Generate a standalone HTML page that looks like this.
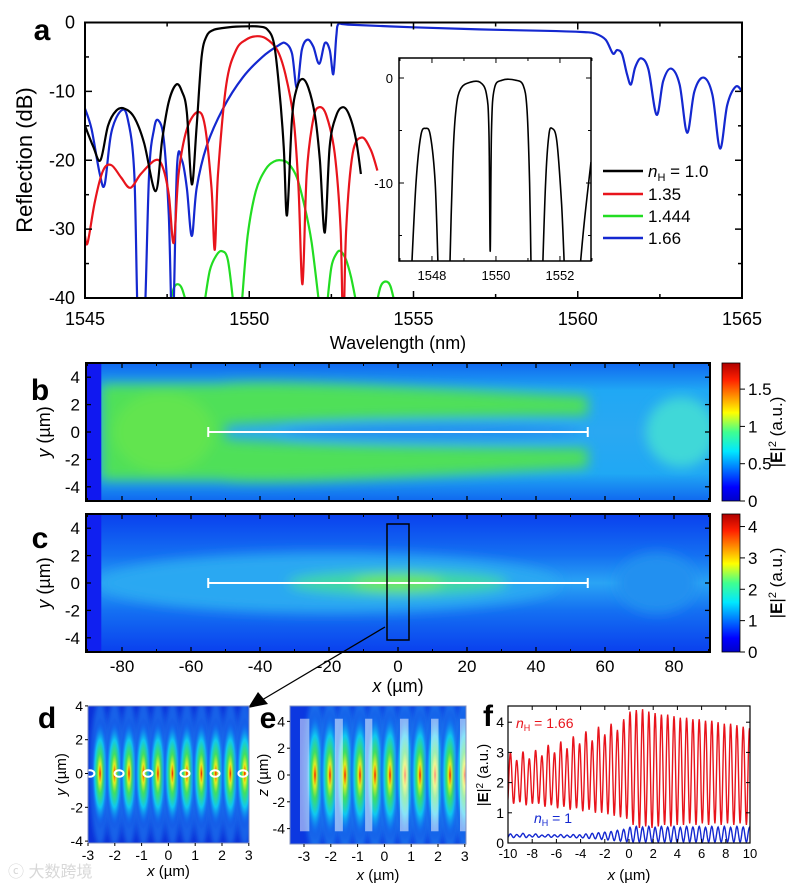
<!DOCTYPE html>
<html><head><meta charset="utf-8"><style>
html,body{margin:0;padding:0;background:#fff;}
svg{display:block;font-family:"Liberation Sans","Noto Sans CJK SC",sans-serif;}
</style></head><body>
<svg id="fig" width="797" height="886" viewBox="0 0 797 886" xmlns="http://www.w3.org/2000/svg">
<defs>
<linearGradient id="jetV" x1="0" y1="1" x2="0" y2="0">
<stop offset="0" stop-color="#0000c8"/><stop offset="0.1" stop-color="#0000ff"/><stop offset="0.36" stop-color="#00e8ff"/><stop offset="0.5" stop-color="#40ff90"/><stop offset="0.64" stop-color="#ffff00"/><stop offset="0.88" stop-color="#ff2000"/><stop offset="1" stop-color="#b00000"/>
</linearGradient>
<radialGradient id="lobe" cx="0.5" cy="0.5" r="0.5">
<stop offset="0" stop-color="#e01000"/><stop offset="0.07" stop-color="#ff8000"/><stop offset="0.17" stop-color="#e0f020"/><stop offset="0.35" stop-color="#40e060"/><stop offset="0.6" stop-color="#10c8f0"/><stop offset="0.82" stop-color="#1070f0" stop-opacity="0.6"/><stop offset="1" stop-color="#1040e0" stop-opacity="0"/>
</radialGradient>
<linearGradient id="bBase" x1="0" y1="0" x2="0" y2="1">
<stop offset="0" stop-color="#1068f0"/><stop offset="0.2" stop-color="#20a8f4"/><stop offset="0.5" stop-color="#2aa8f2"/><stop offset="0.8" stop-color="#20a8f4"/><stop offset="1" stop-color="#1068f0"/>
</linearGradient>
<linearGradient id="cBase" x1="0" y1="0" x2="0" y2="1">
<stop offset="0" stop-color="#0a40ee"/><stop offset="0.3" stop-color="#1470f2"/><stop offset="0.5" stop-color="#2aa4f4"/><stop offset="0.7" stop-color="#1470f2"/><stop offset="1" stop-color="#0a40ee"/>
</linearGradient>
<filter id="blur6" x="-20%" y="-50%" width="140%" height="200%"><feGaussianBlur stdDeviation="6"/></filter>
<filter id="blur3" x="-50%" y="-50%" width="200%" height="200%"><feGaussianBlur stdDeviation="2.5"/></filter>
<clipPath id="clipA"><rect x="85" y="22.5" width="657" height="275.5"/></clipPath>
<clipPath id="clipI"><rect x="399" y="58" width="192" height="203"/></clipPath>
<clipPath id="clipB"><rect x="86" y="363" width="624" height="138"/></clipPath>
<clipPath id="clipC"><rect x="86" y="514" width="624" height="138"/></clipPath>
<clipPath id="clipD"><rect x="88" y="706" width="161" height="137"/></clipPath>
<clipPath id="clipE"><rect x="290" y="706" width="176" height="138"/></clipPath>
<clipPath id="clipF"><rect x="508" y="706" width="242" height="137"/></clipPath>
</defs>
</svg>
<script>
// ---------- Panel a data ----------
const blackWl=[1545,1545.25,1545.47,1545.7,1545.95,1546.2,1546.5,1546.8,1547.15,1547.35,1547.55,1547.78,1547.95,1548.1,1548.25,1548.4,1548.55,1548.7,1548.9,1549.2,1549.6,1550.0,1550.3,1550.55,1550.75,1550.9,1551.05,1551.15,1551.3,1551.45,1551.62,1551.8,1552.0,1552.15,1552.3,1552.45,1552.65,1552.86,1553.05,1553.25,1553.4];
const blackDb=[-15,-18,-20,-15,-12.8,-12.5,-13.8,-17.5,-24.5,-17,-11.5,-9,-10,-13,-23.5,-15,-5,-2,-1.1,-0.8,-0.6,-0.55,-0.6,-1,-3,-9,-18,-28,-14,-9.5,-8.2,-9.5,-13.5,-20,-30.5,-18,-13.5,-12.3,-13.5,-17,-22];
const redWl=[1545,1545.08,1545.3,1545.55,1545.8,1546.1,1546.38,1546.7,1547.13,1547.35,1547.55,1547.7,1547.85,1548.1,1548.43,1548.65,1548.85,1548.95,1549.05,1549.3,1549.6,1549.9,1550.19,1550.5,1550.85,1551.1,1551.35,1551.5,1551.62,1551.75,1551.95,1552.13,1552.35,1552.6,1552.78,1552.86,1552.95,1553.15,1553.43,1553.7,1553.9];
const redDb=[-31,-32,-26,-21.5,-20.7,-22.5,-24,-22,-20,-20.8,-25,-32,-22,-15.5,-13,-15,-24,-33,-22,-9,-4,-2.5,-2,-2.3,-4,-7.5,-14,-24,-38,-22,-14,-12.3,-13.5,-19,-30,-45,-30,-19,-16.7,-18.5,-21.5];
const greenWl=[1547.58,1547.7,1547.82,1547.95,1548.1,null,1548.63,1548.8,1549.0,1549.17,1549.35,1549.52,null,1549.77,1549.95,1550.2,1550.5,1550.75,1550.97,1551.2,1551.45,1551.7,1551.9,1552.13,null,1552.37,1552.5,1552.65,1552.78,1552.95,1553.1,1553.27,null,1553.87,1554.0,1554.16,1554.3,1554.44];
const greenDb=[-41,-38.6,-38,-38.6,-41,null,-41,-36,-33.8,-33.2,-34.5,-41,null,-41,-31,-24.5,-21.3,-20.2,-20,-20.5,-22.5,-27,-32,-41,null,-41,-35.5,-33.6,-33.2,-34.5,-37,-41,null,-41,-38.3,-37.6,-38.3,-41];
const blueWl=[1545,1545.2,1545.45,1545.6,1545.8,1546.1,1546.3,1546.5,1546.62,1546.8,1546.95,1547.1,1547.23,1547.4,1547.55,1547.67,1547.8,1547.95,1548.1,1548.25,1548.4,1548.7,1549.2,1549.8,1550.4,1550.9,1551.1,1551.3,1551.45,1551.6,1551.77,1551.95,1552.13,1552.3,1552.45,1552.56,1552.65,1552.72,1553,1555,1557,1559,1560.2,1560.53,1560.85,1561.07,1561.2,1561.35,1561.5,1561.62,1561.75,1561.93,1562.15,1562.4,1562.6,1562.84,1563.1,1563.33,1563.55,1563.83,1564.1,1564.33,1564.55,1564.81,1565];
const blueDb=[-12.5,-15.5,-22,-23.5,-16,-12.8,-14,-22,-45,-45,-22,-15.5,-14.2,-17,-28,-45,-21,-20,-24,-31,-24,-18,-12.5,-8,-5,-3.3,-3,-4.5,-9.5,-4,-2.5,-3.5,-6,-3,-4,-7.5,-2,-0.2,-0.3,-0.7,-1,-1.2,-1.4,-1.6,-2.5,-4.5,-4,-4.6,-7.5,-9,-6.5,-5.2,-6.8,-13.4,-8.5,-6.7,-9,-16,-10,-8,-10.5,-18.3,-12,-9.3,-10];
const insetWl=[1547.35,1547.5,1547.65,1547.8,1547.95,1548.1,1548.2,null,1548.55,1548.65,1548.75,1548.9,1549.2,1549.5,1549.7,1549.78,1549.82,1549.86,1549.95,1550.2,1550.6,1550.85,1550.97,1551.05,1551.1,null,1551.45,1551.55,1551.65,1551.75,1551.9,1552.05,1552.15,null,1552.6,1552.75,1552.97];
const insetDb=[-19,-10,-5.5,-4.8,-5.5,-10,-19,null,-19,-8,-3,-1,-0.4,-0.4,-1.5,-5,-16.5,-5,-1,-0.2,-0.2,-0.7,-3,-10,-19,null,-19,-10,-5.5,-4.8,-6,-12,-19,null,-19,-14,-8];
const aXTicks=[1545,1550,1555,1560,1565];
const aYTicks=[0,-10,-20,-30,-40];
const insetXTicks=[1548,1550,1552];
const insetYTicks=[0,-10];
const legendLabels=['= 1.0','1.35','1.444','1.66'];
const legendColors=['#000000','#e8141c','#22dd22','#1428d0'];
// ---------- Panel f data ----------
const fX0=-9.8, fPeriod=0.52;
const redPeaks=[3.0,2.75,3.03,2.8,3.08,2.9,3.25,3.0,3.36,3.14,3.53,3.3,3.7,3.4,3.85,3.6,3.95,3.75,4.1,4.35,4.4,4.43,4.35,4.3,4.25,4.25,4.2,4.15,4.15,4.1,4.1,4.05,4.05,4.0,3.95,3.95,3.9,3.85,3.8];
const redTroughs=[1.3,1.35,1.25,1.3,1.3,1.2,1.25,1.15,1.2,1.1,1.15,1.05,1.1,1.0,1.0,0.95,0.9,0.85,0.8,0.6,0.5,0.55,0.5,0.55,0.6,0.55,0.6,0.6,0.65,0.6,0.65,0.6,0.65,0.6,0.65,0.6,0.65,0.6,0.7];
const bluePeaks=[0.3,0.28,0.32,0.27,0.3,0.26,0.28,0.27,0.28,0.26,0.28,0.27,0.3,0.32,0.34,0.36,0.38,0.42,0.45,0.52,0.55,0.53,0.55,0.52,0.55,0.53,0.55,0.52,0.55,0.53,0.55,0.52,0.55,0.53,0.55,0.52,0.55,0.53,0.52];
const blueTroughs=[0.18,0.2,0.18,0.2,0.19,0.2,0.19,0.2,0.18,0.19,0.17,0.17,0.15,0.14,0.12,0.1,0.08,0.06,0.04,0.03,0.03,0.03,0.03,0.03,0.03,0.03,0.03,0.03,0.03,0.03,0.03,0.03,0.03,0.03,0.03,0.03,0.03,0.03,0.03];
const fXTicks=[-10,-8,-6,-4,-2,0,2,4,6,8,10];
const fYTicks=[0,1,2,3,4];
// ---------- heatmap tick data ----------
const bcXTicks=[-80,-60,-40,-20,0,20,40,60,80];
const bcYTicks=[4,2,0,-2,-4];
const bBarTicks=[0,0.5,1,1.5];
const cBarTicks=[0,1,2,3,4];
const dLobes=[-2.55,-2.01,-1.47,-0.93,-0.39,0.15,0.69,1.23,1.77,2.31,2.85];
const dCircles=[-2.93,-1.84,-0.76,0.62,1.74,2.78];
const eLobes=[-2.59,-2.03,-1.47,-0.91,-0.35,0.21,0.77,1.33,1.89,2.45,3.0];
const eStripes=[[-3.15,-2.8],[-1.85,-1.55],[-0.72,-0.45],[0.58,0.9],[1.74,2.02],[2.82,3.1]];
const dTicks=[-3,-2,-1,0,1,2,3];
const dYTicks=[4,2,0,-2,-4];

const NS='http://www.w3.org/2000/svg';
const svg=document.getElementById('fig');
function mk(tag,attrs,parent){const e=document.createElementNS(NS,tag);for(const k in attrs)e.setAttribute(k,attrs[k]);(parent||svg).appendChild(e);return e;}
function txt(x,y,s,size,anchor,parent,extra){const t=mk('text',Object.assign({x:x,y:y,'font-size':size,'text-anchor':anchor||'middle',fill:'#000'},extra||{}),parent);t.textContent=s;return t;}
function pathFrom(xs,ys,X,Y){
 // split into segments, then Catmull-Rom smoothing
 const segs=[];let cur=[];
 for(let i=0;i<xs.length;i++){if(xs[i]===null){if(cur.length)segs.push(cur);cur=[];continue;}cur.push([X(xs[i]),Y(ys[i])]);}
 if(cur.length)segs.push(cur);
 let d='';
 segs.forEach(p=>{d+='M'+p[0][0].toFixed(1)+','+p[0][1].toFixed(1);
  for(let i=0;i<p.length-1;i++){const p0=p[i-1]||p[i],p1=p[i],p2=p[i+1],p3=p[i+2]||p2;
   const c1x=p1[0]+(p2[0]-p0[0])/6,c1y=p1[1]+(p2[1]-p0[1])/6,c2x=p2[0]-(p3[0]-p1[0])/6,c2y=p2[1]-(p3[1]-p1[1])/6;
   d+='C'+c1x.toFixed(1)+','+c1y.toFixed(1)+' '+c2x.toFixed(1)+','+c2y.toFixed(1)+' '+p2[0].toFixed(1)+','+p2[1].toFixed(1);}
 });
 return d;}
let el;

// ===== Panel a =====
const aX=w=>85+32.85*(w-1545), aY=db=>22.5+6.8875*(-db);
const ga=mk('g',{});


el=txt(42,40,'a',30,'middle',ga,{'font-weight':'bold'});


const gs=mk('g',{'clip-path':'url(#clipA)',fill:'none','stroke-width':2.2,'stroke-linejoin':'round'},ga);
el=mk('path',{d:pathFrom(greenWl,greenDb,aX,aY),stroke:legendColors[2]},gs);


el=mk('path',{d:pathFrom(blueWl,blueDb,aX,aY),stroke:legendColors[3]},gs);


el=mk('path',{d:pathFrom(redWl,redDb,aX,aY),stroke:legendColors[1]},gs);


el=mk('path',{d:pathFrom(blackWl,blackDb,aX,aY),stroke:legendColors[0]},gs);


el=mk('rect',{x:85,y:22.5,width:657,height:275.5,fill:'none',stroke:'#000','stroke-width':2},ga);


for(let w=1545;w<=1565;w+=2.5){const L=(w%5===0)?7:4;mk('line',{x1:aX(w),x2:aX(w),y1:298,y2:298-L,stroke:'#000','stroke-width':1.5},ga);mk('line',{x1:aX(w),x2:aX(w),y1:22.5,y2:22.5+L,stroke:'#000','stroke-width':1.5},ga);}
for(let d=0;d>=-40;d-=5){const L=(d%10===0)?7:4;mk('line',{x1:85,x2:85+L,y1:aY(d),y2:aY(d),stroke:'#000','stroke-width':1.5},ga);mk('line',{x1:742,x2:742-L,y1:aY(d),y2:aY(d),stroke:'#000','stroke-width':1.5},ga);}
aXTicks.forEach(w=>{el=txt(aX(w),325,String(w),18,'middle',ga);

});
aYTicks.forEach(d=>{el=txt(75,aY(d)+6,String(d),18,'end',ga);

});
el=txt(398,349,'Wavelength (nm)',18,'middle',ga);


el=txt(0,0,'Reflection (dB)',22,'middle',ga,{transform:'translate(32,160) rotate(-90)'});


// inset
const iX=w=>399+32*(w-1546.97), iY=db=>78+10.5*(-db);
const gi=mk('g',{},ga);


mk('rect',{x:399,y:58,width:192,height:203,fill:'#fff'},gi);
el=mk('path',{d:pathFrom(insetWl,insetDb,iX,iY),stroke:'#000',fill:'none','stroke-width':1.6,'clip-path':'url(#clipI)'},gi);


mk('rect',{x:399,y:58,width:192,height:203,fill:'none',stroke:'#000','stroke-width':1.5},gi);
for(let w=1547;w<=1553;w+=1){const L=(w%2===0)?5:3;mk('line',{x1:iX(w),x2:iX(w),y1:261,y2:261-L,stroke:'#000'},gi);mk('line',{x1:iX(w),x2:iX(w),y1:58,y2:58+L,stroke:'#000'},gi);}
for(let d=0;d>=-15;d-=5){const L=(d%10===0)?5:3;mk('line',{x1:399,x2:399+L,y1:iY(d),y2:iY(d),stroke:'#000'},gi);mk('line',{x1:591,x2:591-L,y1:iY(d),y2:iY(d),stroke:'#000'},gi);}
insetXTicks.forEach(w=>{el=txt(iX(w),280,String(w),13,'middle',gi);

});
insetYTicks.forEach(d=>{el=txt(393,iY(d)+5,String(d),13,'end',gi);

});
// legend
const gl=mk('g',{},ga);


const legY=[171,194,216,238];
legendLabels.forEach((s,i)=>{
 el=mk('line',{x1:603,x2:643,y1:legY[i],y2:legY[i],stroke:legendColors[i],'stroke-width':2.5},gl);
 
 
 const t=mk('text',{x:648,y:legY[i]+6,'font-size':17,fill:'#000'},gl);
 if(i===0){const a=mk('tspan',{'font-style':'italic'},t);a.textContent='n';const b=mk('tspan',{'font-size':11,dy:4},t);b.textContent='H';const c=mk('tspan',{dy:-4},t);c.textContent=' '+s;}else t.textContent=s;
 
 
});

// ===== Panels b,c =====
const bcX=x=>398+3.45*x;
function heatAxes(g,top,yLab,barTicks,barMax,showX){
 const Y=y=>top+69-13.7*y;
 mk('rect',{x:86,y:top,width:624,height:138,fill:'none',stroke:'#000','stroke-width':2},g);
 bcXTicks.forEach(x=>{mk('line',{x1:bcX(x),x2:bcX(x),y1:top+138,y2:top+133,stroke:'#000','stroke-width':1.3},g);mk('line',{x1:bcX(x),x2:bcX(x),y1:top,y2:top+5,stroke:'#000','stroke-width':1.3},g);
  if(showX){el=txt(bcX(x),672,String(x),17,'middle',g);
  
  }});
 for(let x=-90;x<=90;x+=10){mk('line',{x1:bcX(x),x2:bcX(x),y1:top+138,y2:top+135,stroke:'#000'},g);mk('line',{x1:bcX(x),x2:bcX(x),y1:top,y2:top+3,stroke:'#000'},g);}
 bcYTicks.forEach(y=>{mk('line',{x1:86,x2:91,y1:Y(y),y2:Y(y),stroke:'#000','stroke-width':1.3},g);mk('line',{x1:710,x2:705,y1:Y(y),y2:Y(y),stroke:'#000','stroke-width':1.3},g);
  el=txt(80,Y(y)+6,String(y),17,'end',g);
  
  });
 const t=mk('text',{'font-size':18,'text-anchor':'middle',transform:'translate(50,'+(top+69)+') rotate(-90)'},g);
 const a=mk('tspan',{'font-style':'italic'},t);a.textContent=yLab;const b=mk('tspan',{},t);b.textContent=' (\u00b5m)';
 
 
 el=mk('rect',{x:722,y:top,width:18,height:138,fill:'url(#jetV)',stroke:'#000','stroke-width':0.8},g);
 
 
 const cY=v=>top+138-138*v/barMax;
 barTicks.forEach(v=>{mk('line',{x1:740,x2:745,y1:cY(v),y2:cY(v),stroke:'#000'},g);
  el=txt(748,cY(v)+6,String(v),17,'start',g);
  
  });
 const ct=mk('text',{'font-size':17,'text-anchor':'middle',transform:'translate(782,'+(top+69)+') rotate(-90)'},g);
 const p1=mk('tspan',{},ct);p1.textContent='|';const p2=mk('tspan',{'font-weight':'bold'},ct);p2.textContent='E';const p3=mk('tspan',{},ct);p3.textContent='|';const p4=mk('tspan',{'font-size':11,dy:-6},ct);p4.textContent='2';const p5=mk('tspan',{dy:6},ct);p5.textContent=' (a.u.)';
 
 
 return Y;
}
// b
const gb=mk('g',{});


const hb=mk('g',{'clip-path':'url(#clipB)'},gb);
mk('rect',{x:86,y:363,width:624,height:138,fill:'url(#bBase)'},hb);
const bb=mk('g',{filter:'url(#blur6)'},hb);
const bY=y=>432-13.7*y;
mk('path',{d:`M${bcX(-86)},${bY(3.5)} L${bcX(-52)},${bY(3.5)} C${bcX(-40)},${bY(3.9)} ${bcX(0)},${bY(3.3)} ${bcX(55)},${bY(2.6)} L${bcX(55)},${bY(1.2)} C${bcX(20)},${bY(1.1)} ${bcX(-30)},${bY(0.9)} ${bcX(-50)},${bY(0.5)} L${bcX(-50)},${bY(-0.5)} C${bcX(-30)},${bY(-0.9)} ${bcX(20)},${bY(-1.1)} ${bcX(55)},${bY(-1.2)} L${bcX(55)},${bY(-2.6)} C${bcX(0)},${bY(-3.3)} ${bcX(-40)},${bY(-3.9)} ${bcX(-52)},${bY(-3.5)} L${bcX(-86)},${bY(-3.5)} Z`,fill:'#50e058'},bb);
mk('ellipse',{cx:bcX(-68),cy:bY(0),rx:50,ry:40,fill:'#62e450'},bb);
mk('ellipse',{cx:bcX(82),cy:bY(0),rx:35,ry:35,fill:'#40d8d8'},bb);
mk('ellipse',{cx:bcX(10),cy:bY(0),rx:150,ry:9,fill:'#2090f0'},bb);
mk('rect',{x:86,y:363,width:bcX(-86)-86,height:138,fill:'#1018f0'},hb);
el=mk('g',{stroke:'#fff','stroke-width':2},gb);


mk('line',{x1:bcX(-55),x2:bcX(55),y1:bY(0),y2:bY(0)},el);mk('line',{x1:bcX(-55),x2:bcX(-55),y1:bY(0)-5,y2:bY(0)+5},el);mk('line',{x1:bcX(55),x2:bcX(55),y1:bY(0)-5,y2:bY(0)+5},el);
heatAxes(gb,363,'y',bBarTicks,1.85,false);
el=txt(40,400,'b',30,'middle',gb,{'font-weight':'bold'});


// c
const gc=mk('g',{});


const hc=mk('g',{'clip-path':'url(#clipC)'},gc);
mk('rect',{x:86,y:514,width:624,height:138,fill:'url(#cBase)'},hc);
const cb=mk('g',{filter:'url(#blur6)'},hc);
const cY=y=>583-13.7*y;
mk('ellipse',{cx:bcX(-20),cy:cY(0),rx:230,ry:30,fill:'#2aa8f2'},cb);
mk('ellipse',{cx:bcX(0),cy:cY(0),rx:110,ry:12,fill:'#40d8a0'},cb);
mk('ellipse',{cx:bcX(0),cy:cY(0),rx:45,ry:8,fill:'#70e850'},cb);
mk('ellipse',{cx:bcX(75),cy:cY(0),rx:40,ry:30,fill:'#2090f0'},cb);
mk('rect',{x:86,y:514,width:bcX(-86)-86,height:138,fill:'#1020f0'},hc);
el=mk('g',{stroke:'#fff','stroke-width':2},gc);


mk('line',{x1:bcX(-55),x2:bcX(55),y1:cY(0),y2:cY(0)},el);mk('line',{x1:bcX(-55),x2:bcX(-55),y1:cY(0)-5,y2:cY(0)+5},el);mk('line',{x1:bcX(55),x2:bcX(55),y1:cY(0)-5,y2:cY(0)+5},el);
el=mk('rect',{x:387,y:524,width:22,height:116,fill:'none',stroke:'#000','stroke-width':1.5},gc);


el=mk('line',{x1:385,y1:627,x2:262,y2:700,stroke:'#000','stroke-width':1.3},gc);


mk('path',{d:'M248,708 L258,692 L268,704 Z',fill:'#000'},gc);
heatAxes(gc,514,'y',cBarTicks,4.4,true);
const xt=mk('text',{x:398,y:692,'font-size':18,'text-anchor':'middle'},gc);
{const a=mk('tspan',{'font-style':'italic'},xt);a.textContent='x';const b=mk('tspan',{},xt);b.textContent=' (\u00b5m)';}


el=txt(40,548,'c',30,'middle',gc,{'font-weight':'bold'});



// ===== Panel d =====
const dX=x=>88+26.8*(x+3), dY=y=>773.5-16.9*y;
const gd=mk('g',{});


const hd=mk('g',{'clip-path':'url(#clipD)'},gd);
mk('rect',{x:88,y:706,width:161,height:137,fill:'#0c30d8'},hd);
dLobes.forEach(x=>{mk('ellipse',{cx:dX(x),cy:dY(0),rx:10,ry:72,fill:'#1a78f0',opacity:0.7,filter:'url(#blur3)'},hd);
 el=mk('ellipse',{cx:dX(x),cy:dY(0),rx:9,ry:56,fill:'url(#lobe)'},hd);
 
 });
dCircles.forEach(x=>{el=mk('ellipse',{cx:dX(x),cy:dY(0),rx:4.5,ry:3.2,fill:'none',stroke:'#fff','stroke-width':2},hd);
 
 });
function smallAxes(g,X,Y,x0,y0,w,h,xt,yt,ylab,xlabY){
 mk('rect',{x:x0,y:y0,width:w,height:h,fill:'none',stroke:'#8090c0','stroke-width':1},g);
 xt.forEach(v=>{mk('line',{x1:X(v),x2:X(v),y1:y0+h,y2:y0+h+3,stroke:'#000'},g);
  el=txt(X(v),y0+h+17,String(v),14,'middle',g);
  
  });
 yt.forEach(v=>{mk('line',{x1:x0,x2:x0-3,y1:Y(v),y2:Y(v),stroke:'#000'},g);
  el=txt(x0-5,Y(v)+5,String(v),14,'end',g);
  
  });
 const t=mk('text',{'font-size':15,'text-anchor':'middle',transform:'translate('+(x0-22)+','+(y0+h/2)+') rotate(-90)'},g);
 const a=mk('tspan',{'font-style':'italic'},t);a.textContent=ylab;const b=mk('tspan',{},t);b.textContent=' (\u00b5m)';
 
 
 const u=mk('text',{x:x0+w/2,y:xlabY,'font-size':15,'text-anchor':'middle'},g);
 const c=mk('tspan',{'font-style':'italic'},u);c.textContent='x';const d=mk('tspan',{},u);d.textContent=' (\u00b5m)';
 
 
}
smallAxes(gd,dX,dY,88,706,161,137,dTicks,dYTicks,'y',876);
el=txt(47,728,'d',30,'middle',gd,{'font-weight':'bold'});



// ===== Panel e =====
const eX=x=>304+26.8*(x+3), eY=y=>775-13.4*y;
const ge=mk('g',{});


const he=mk('g',{'clip-path':'url(#clipE)'},ge);
mk('rect',{x:290,y:706,width:176,height:138,fill:'#0c38e0'},he);
eLobes.forEach(x=>{mk('ellipse',{cx:eX(x),cy:eY(0),rx:11,ry:78,fill:'#1a80f0',opacity:0.7,filter:'url(#blur3)'},he);
 el=mk('ellipse',{cx:eX(x),cy:eY(0),rx:10,ry:66,fill:'url(#lobe)'},he);
 
 });
eStripes.forEach(s=>{el=mk('rect',{x:eX(s[0]),y:eY(4.2),width:eX(s[1])-eX(s[0]),height:eY(-4.2)-eY(4.2),fill:'#fff',opacity:0.5},he);
 
 });
smallAxes(ge,eX,eY,290,706,176,138,dTicks,dYTicks,'z',880);
el=txt(268,728,'e',30,'middle',ge,{'font-weight':'bold'});



// ===== Panel f =====
const fX=x=>508+12.1*(x+10), fY=v=>843-30.2*v;
const gf=mk('g',{});


function osc(peaks,troughs){let d='';const n=8;
 for(let i=0;i<peaks.length;i++){const xp=fX0+i*fPeriod;const prevT=i===0?troughs[0]:troughs[i-1];
  for(let k=0;k<n;k++){const f=k/n;const x=xp-fPeriod/2+f*fPeriod/2;const v=prevT+(peaks[i]-prevT)*(1-Math.cos(Math.PI*f))/2;d+=(d?'L':'M')+fX(x).toFixed(1)+','+fY(v).toFixed(1);}
  for(let k=0;k<n;k++){const f=k/n;const x=xp+f*fPeriod/2;const v=peaks[i]+(troughs[i]-peaks[i])*(1-Math.cos(Math.PI*f))/2;d+='L'+fX(x).toFixed(1)+','+fY(v).toFixed(1);}
 }return d;}
const hf=mk('g',{'clip-path':'url(#clipF)',fill:'none','stroke-width':1.4},gf);
el=mk('path',{d:osc(redPeaks,redTroughs),stroke:'#e8141c'},hf);


el=mk('path',{d:osc(bluePeaks,blueTroughs),stroke:'#1428d0'},hf);


mk('rect',{x:508,y:706,width:242,height:137,fill:'none',stroke:'#000','stroke-width':1.2},gf);
fXTicks.forEach(v=>{mk('line',{x1:fX(v),x2:fX(v),y1:843,y2:839,stroke:'#000'},gf);mk('line',{x1:fX(v),x2:fX(v),y1:706,y2:710,stroke:'#000'},gf);
 el=txt(fX(v),858,String(v),13,'middle',gf);
 
 });
fYTicks.forEach(v=>{mk('line',{x1:508,x2:512,y1:fY(v),y2:fY(v),stroke:'#000'},gf);mk('line',{x1:750,x2:746,y1:fY(v),y2:fY(v),stroke:'#000'},gf);
 el=txt(504,fY(v)+5,String(v),14,'end',gf);
 
 });
{const t=mk('text',{'font-size':15,'text-anchor':'middle',transform:'translate(488,775) rotate(-90)'},gf);
 const p1=mk('tspan',{},t);p1.textContent='|';const p2=mk('tspan',{'font-weight':'bold'},t);p2.textContent='E';const p3=mk('tspan',{},t);p3.textContent='|';const p4=mk('tspan',{'font-size':10,dy:-5},t);p4.textContent='2';const p5=mk('tspan',{dy:5},t);p5.textContent=' (a.u.)';
 
 
 const u=mk('text',{x:629,y:880,'font-size':15,'text-anchor':'middle'},gf);
 const c=mk('tspan',{'font-style':'italic'},u);c.textContent='x';const d=mk('tspan',{},u);d.textContent=' (\u00b5m)';
 
 }
function nlab(x,y,s,col){const t=mk('text',{x:x,y:y,'font-size':14,fill:col},gf);const a=mk('tspan',{'font-style':'italic'},t);a.textContent='n';const b=mk('tspan',{'font-size':9,dy:3},t);b.textContent='H';const c=mk('tspan',{dy:-3},t);c.textContent=' = '+s;return t;}
el=nlab(516,728,'1.66','#e8141c');


el=nlab(534,823,'1','#1428d0');


el=txt(488,726,'f',30,'middle',gf,{'font-weight':'bold'});


el=txt(8,877,'\u24d2 大数跨境',16,'start',svg,{fill:'#d8d8d8'});


</script>
</body></html>
